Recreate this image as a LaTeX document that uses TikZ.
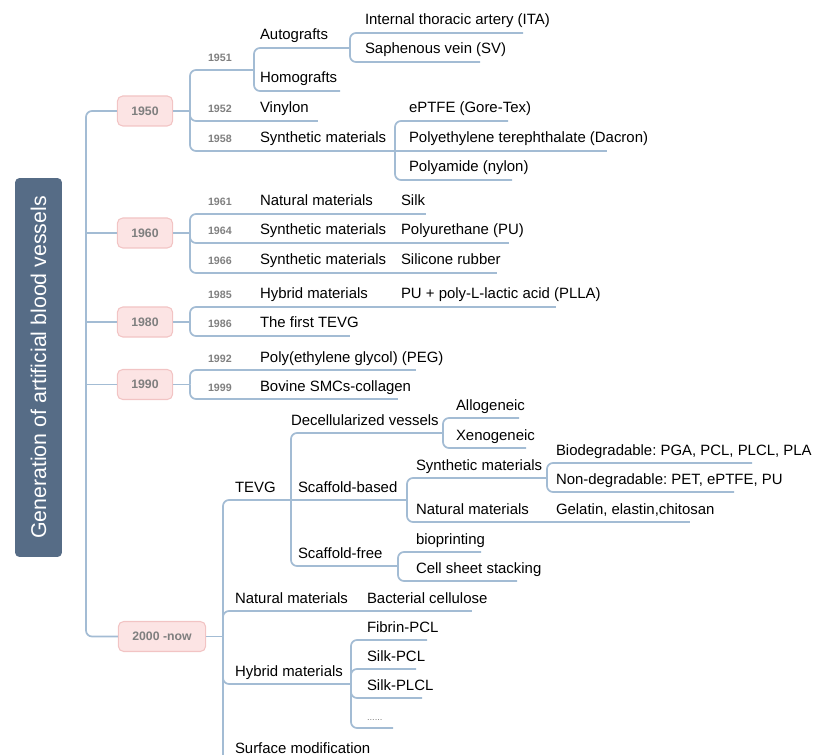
\documentclass[tikz,border=0pt]{standalone}
\usepackage{fontspec}
\setmainfont{Liberation Sans}
\usepackage{tikz}
\usepackage{xcolor}
\definecolor{linkcolor}{HTML}{A3BCD4}
\definecolor{rootcolor}{HTML}{566C86}
\definecolor{erafill}{HTML}{FCE4E4}
\definecolor{eradraw}{HTML}{F2C4C4}
\definecolor{yeargray}{HTML}{7F7F7F}
\newlength{\pxu}\setlength{\pxu}{0.75pt}
% underline box of given length (px), text left aligned
\newcommand{\tw}[2]{\makebox[#1\pxu][l]{#2}}
\frenchspacing

\begin{document}
\begin{tikzpicture}[x=0.75pt, y=-0.75pt,
    link/.style={draw=linkcolor, line width=1.3pt, rounded corners=4.5pt},
    topic/.style={anchor=south west, inner xsep=0pt, inner ysep=6pt, outer sep=0pt, text depth=0pt, font=\fontsize{11.2}{13}\selectfont},
    yearlbl/.style={topic, text=yeargray, font=\fontsize{8}{10}\selectfont\bfseries},
    era/.style={draw=eradraw, fill=erafill, rounded corners=4pt, line width=0.8pt, minimum height=22.5pt, inner xsep=10.5pt, text=yeargray, font=\fontsize{9.2}{11}\selectfont\bfseries},
    rootbox/.style={fill=rootcolor, rounded corners=3pt, rotate=90, minimum width=284pt, minimum height=35pt, text=white, font=\fontsize{16}{19}\selectfont}]
        \path[use as bounding box, clip] (0,0) rectangle (813,755);

        % Root and spine
        \node[rootbox] (root) at (38.5,367.5) {Generation of artificial blood vessels};
        \node[era] (n1950) at (145,111) {1950};
        \node[era] (n1960) at (145,233) {1960};
        \node[era] (n1980) at (145,322) {1980};
        \node[era] (n1990) at (145,384.5) {1990};
        \node[era] (n2000) at (162,636.5) {2000 -now};
        \coordinate (spine) at (86,367);
        \draw[link] (n1950.west) -| (spine) |- (n2000.west);
        \foreach \e in {n1960,n1980,n1990} \draw[link] (spine |- \e.west) -- (\e.west);

        % 1950
        \node[yearlbl] (y1951) at (208,70) {\tw{46}{1951}};
        \node[topic] (autog) at (260,48) {\tw{90}{Autografts}};
        \node[topic] (ita) at (365,33) {\tw{158}{Internal thoracic artery (ITA)}};
        \node[topic] (sv) at (365,62) {\tw{115}{Saphenous vein (SV)}};
        \node[topic] (homog) at (260,91) {\tw{80}{Homografts}};
        \node[yearlbl] (y1952) at (208,121) {\tw{46}{1952}};
        \node[topic] (vinylon) at (260,121) {\tw{58}{Vinylon}};
        \node[yearlbl] (y1958) at (208,151) {\tw{46}{1958}};
        \node[topic] (syn58) at (260,151) {\tw{135}{Synthetic materials}};
        \node[topic] (eptfe) at (409,121) {\tw{99}{ePTFE (Gore-Tex)}};
        \node[topic] (dacron) at (409,151) {\tw{198}{Polyethylene terephthalate (Dacron)}};
        \node[topic] (nylon) at (409,180) {\tw{103}{Polyamide (nylon)}};
        \coordinate (k50) at (190,111);
        \draw[link] (n1950) -- (k50);
        \foreach \c in {y1951,y1952,y1958} \draw[link] (k50) |- (\c.south east);
        \foreach \c in {autog,homog} \draw[link] (y1951.south east) |- (\c.south east);
        \foreach \c in {ita,sv} \draw[link] (autog.south east) |- (\c.south east);
        \draw[link] (y1952.south east) -- (vinylon.south east);
        \draw[link] (y1958.south east) -- (syn58.south east) -- (dacron.south east);
        \foreach \c in {eptfe,nylon} \draw[link] (syn58.south east) |- (\c.south east);

        % 1960
        \node[yearlbl] (y1961) at (208,214) {\tw{46}{1961}};
        \node[topic] (nat61) at (260,214) {\tw{135}{Natural materials}};
        \node[topic] (silk) at (401,214) {\tw{25}{Silk}};
        \node[yearlbl] (y1964) at (208,243) {\tw{46}{1964}};
        \node[topic] (syn64) at (260,243) {\tw{135}{Synthetic materials}};
        \node[topic] (pu) at (401,243) {\tw{108}{Polyurethane (PU)}};
        \node[yearlbl] (y1966) at (208,273) {\tw{46}{1966}};
        \node[topic] (syn66) at (260,273) {\tw{135}{Synthetic materials}};
        \node[topic] (silicone) at (401,273) {\tw{96}{Silicone rubber}};
        \coordinate (k60) at (190,233);
        \draw[link] (n1960) -- (k60);
        \foreach \c in {y1961,y1964,y1966} \draw[link] (k60) |- (\c.south east);
        \draw[link] (y1961.south east) -- (nat61.south east) -- (silk.south east);
        \draw[link] (y1964.south east) -- (syn64.south east) -- (pu.south east);
        \draw[link] (y1966.south east) -- (syn66.south east) -- (silicone.south east);

        % 1980
        \node[yearlbl] (y1985) at (208,307) {\tw{46}{1985}};
        \node[topic] (hyb85) at (260,307) {\tw{135}{Hybrid materials}};
        \node[topic] (plla) at (401,307) {\tw{155}{PU + poly-L-lactic acid (PLLA)}};
        \node[yearlbl] (y1986) at (208,336) {\tw{46}{1986}};
        \node[topic] (tevg86) at (260,336) {\tw{90}{The first TEVG}};
        \coordinate (k80) at (190,322);
        \draw[link] (n1980) -- (k80);
        \foreach \c in {y1985,y1986} \draw[link] (k80) |- (\c.south east);
        \draw[link] (y1985.south east) -- (hyb85.south east) -- (plla.south east);
        \draw[link] (y1986.south east) -- (tevg86.south east);

        % 1990
        \node[yearlbl] (y1992) at (208,370) {\tw{46}{1992}};
        \node[topic] (peg) at (260,370) {\tw{156}{Poly(ethylene glycol) (PEG)}};
        \node[yearlbl] (y1999) at (208,399) {\tw{46}{1999}};
        \node[topic] (bovine) at (260,399) {\tw{138}{Bovine SMCs-collagen}};
        \coordinate (k90) at (190,384.5);
        \draw[link] (n1990) -- (k90);
        \foreach \c in {y1992,y1999} \draw[link] (k90) |- (\c.south east);
        \draw[link] (y1992.south east) -- (peg.south east);
        \draw[link] (y1999.south east) -- (bovine.south east);

        % 2000 -now
        \node[topic] (tevg) at (235,500) {\tw{56}{TEVG}};
        \node[topic] (decell) at (291,433) {\tw{152}{Decellularized vessels}};
        \node[topic] (allo) at (456,418) {\tw{63}{Allogeneic}};
        \node[topic] (xeno) at (456,448) {\tw{70}{Xenogeneic}};
        \node[topic] (scafb) at (298,500) {\tw{109}{Scaffold-based}};
        \node[topic] (synsc) at (416,478) {\tw{131}{Synthetic materials}};
        \node[topic] (biodeg) at (556,463) {\tw{196}{Biodegradable: PGA, PCL, PLCL, PLA}};
        \node[topic] (nondeg) at (556,492) {\tw{178}{Non-degradable: PET, ePTFE, PU}};
        \node[topic] (natsc) at (416,522) {\tw{131}{Natural materials}};
        \node[topic] (gelatin) at (556,522) {\tw{134}{Gelatin, elastin,chitosan}};
        \node[topic] (scaff) at (298,566) {\tw{100}{Scaffold-free}};
        \node[topic] (biop) at (416,552) {\tw{65}{bioprinting}};
        \node[topic] (cellsheet) at (416,581) {\tw{101}{Cell sheet stacking}};
        \node[topic] (nat00) at (235,611) {\tw{116}{Natural materials}};
        \node[topic] (bact) at (367,611) {\tw{105}{Bacterial cellulose}};
        \node[topic] (hyb00) at (235,684) {\tw{116}{Hybrid materials}};
        \node[topic] (fibrin) at (367,640) {\tw{60}{Fibrin-PCL}};
        \node[topic] (silkpcl) at (367,669) {\tw{49}{Silk-PCL}};
        \node[topic] (silkplcl) at (367,698) {\tw{55}{Silk-PLCL}};
        \node[topic, text=yeargray, font=\fontsize{7}{8}\selectfont] (dots) at (367,728) {\tw{26}{......}};
        \node[topic] (surf) at (235,761) {\tw{145}{Surface modification}};
        \coordinate (k00) at (223,636.5);
        \draw[link] (n2000) -- (k00);
        \foreach \c in {tevg,nat00,hyb00,surf} \draw[link] (k00) |- (\c.south east);
        \foreach \c in {decell,scaff} \draw[link] (tevg.south east) |- (\c.south east);
        \draw[link] (tevg.south east) -- (scafb.south east);
        \foreach \c in {allo,xeno} \draw[link] (decell.south east) |- (\c.south east);
        \foreach \c in {synsc,natsc} \draw[link] (scafb.south east) |- (\c.south east);
        \foreach \c in {biodeg,nondeg} \draw[link] (synsc.south east) |- (\c.south east);
        \draw[link] (natsc.south east) -- (gelatin.south east);
        \foreach \c in {biop,cellsheet} \draw[link] (scaff.south east) |- (\c.south east);
        \draw[link] (nat00.south east) -- (bact.south east);
        \foreach \c in {fibrin,silkpcl,silkplcl,dots} \draw[link] (hyb00.south east) |- (\c.south east);
      \end{tikzpicture}
\end{document}
